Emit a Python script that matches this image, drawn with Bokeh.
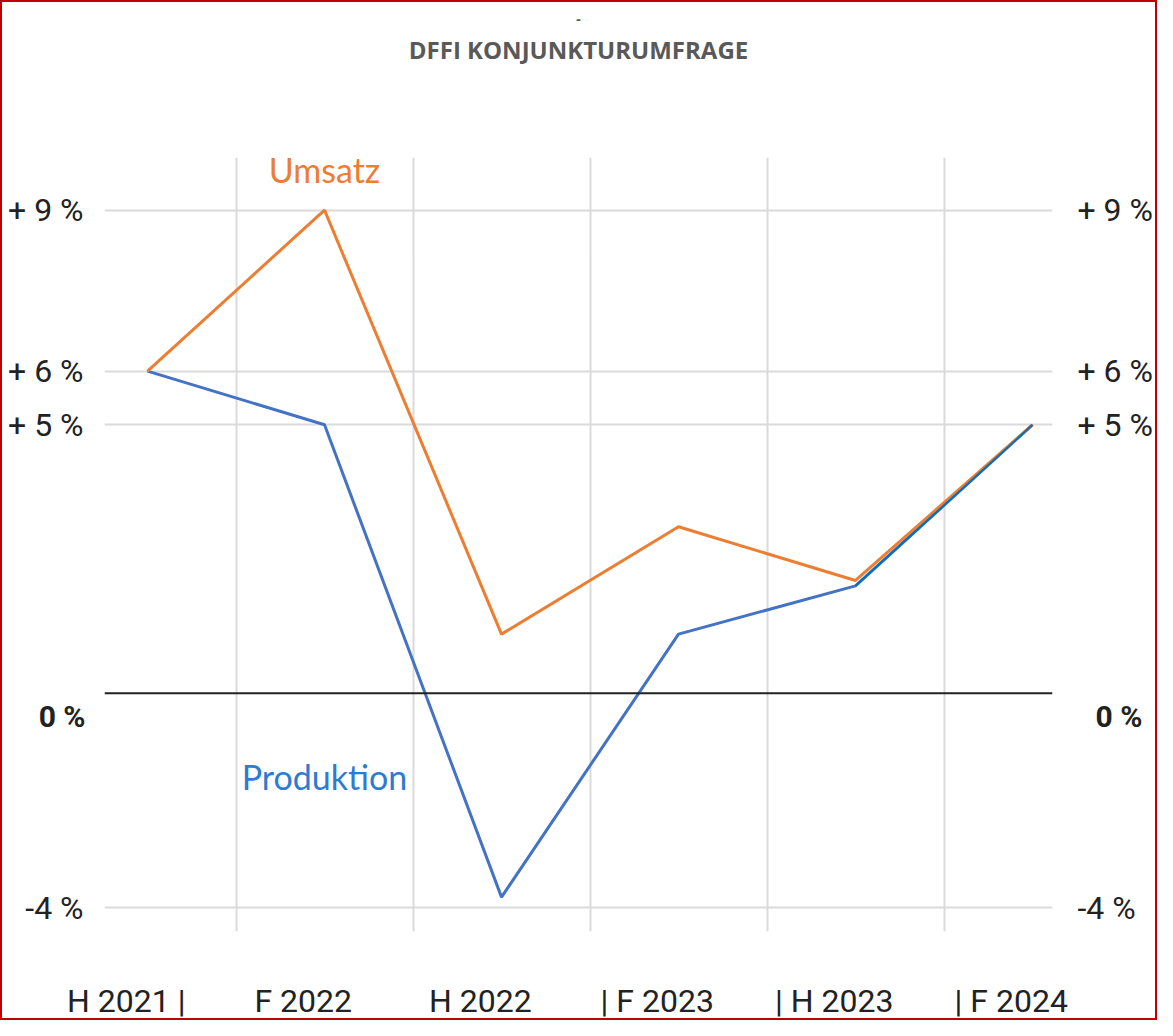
from bokeh.plotting import figure
from bokeh.models import Range1d, FixedTicker, LinearAxis, Span, Label, Title, Grid
from bokeh.embed import file_html
from bokeh.resources import INLINE

# ---- data -------------------------------------------------------------
categories = ["H 2021", "F 2022", "H 2022", "F 2023", "H 2023", "F 2024"]
x_tick_labels = ["H 2021 |", "F 2022", "H 2022", "| F 2023", "| H 2023", "| F 2024"]
umsatz = [6, 9, 1.1, 3.1, 2.1, 5]
produktion = [6, 5, -3.8, 1.1, 2.0, 5]
y_ticks = [9, 6, 5, 0, -4]
y_tick_labels = ["+ 9 %", "+ 6 %", "+ 5 %", "0 %", "-4 %"]

x = list(range(len(categories)))

TICKFONT = "Roboto"
ORANGE = "#ED7D31"
BLUE = "#4472C4"

x0, x1 = -0.243, 5.113
y0, y1 = -4.44, 9.98
p = figure(width=1157, height=1020, output_backend="svg", toolbar_location=None,
           x_range=Range1d(x0, x1), y_range=Range1d(y0, y1),
           x_axis_type=None, y_axis_type=None,
           min_border_left=102, min_border_right=107, min_border_top=155, min_border_bottom=85,
           title="-")
p.outline_line_color = None
p.background_fill_color = "white"
p.border_fill_color = "white"
p.styles = {"border": "2px solid #C00000"}

# titles: small dash on top, main title below it, empty space down to the plot
p.title.align = "center"
p.title.text_font = "Open Sans"
p.title.text_font_style = "bold"
p.title.text_font_size = "14px"
p.title.text_color = "#595959"
p.title.standoff = 4
p.add_layout(Title(text=" ", text_font_size="1px", standoff=84), "above")   # spacing only
p.add_layout(Title(text="DFFI KONJUNKTURUMFRAGE", align="center", text_font="Open Sans",
                   text_font_style="bold", text_font_size="24px", text_color="#595959",
                   standoff=10), "above")

# grids
p.add_layout(Grid(dimension=0, ticker=FixedTicker(ticks=[i + 0.5 for i in x[:-1]]),
                  grid_line_color="#DADADA", grid_line_width=2))
p.add_layout(Grid(dimension=1, ticker=FixedTicker(ticks=[t for t in y_ticks if t != 0]),
                  grid_line_color="#DADADA", grid_line_width=2))
p.add_layout(Span(location=0, dimension="width", line_color="#222222", line_width=2))

# y axes: bold "0 %" (drawn a little below its line) on an inner axis,
# the other labels on an outer axis pulled back to the same edge
W0 = 48          # approx. width of the bold "0 %" label
ZSHIFT = 0.43    # "0 %" sits slightly below the zero line
p.extra_y_ranges = {"zero": Range1d(y0 + ZSHIFT, y1 + ZSHIFT)}
zero_ticks = [t for t in y_ticks if t == 0]
other_ticks = [t for t in y_ticks if t != 0]
zero_over = {t: l for t, l in zip(y_ticks, y_tick_labels) if t == 0}
other_over = {t: l for t, l in zip(y_ticks, y_tick_labels) if t != 0}
common = dict(axis_line_color=None, major_tick_line_color=None, minor_tick_line_color=None,
              major_tick_in=0, major_tick_out=0, major_label_text_color="#222222")
for side, s0, sa in (("left", 19, -W0), ("right", 43, 23 - 43 - W0)):
    az = LinearAxis(y_range_name="zero", ticker=FixedTicker(ticks=zero_ticks),
                    major_label_overrides=zero_over, major_label_standoff=s0,
                    major_label_text_font=TICKFONT, major_label_text_font_style="bold",
                    major_label_text_font_size="30px", **common)
    p.add_layout(az, side)
    ao = LinearAxis(ticker=FixedTicker(ticks=other_ticks), major_label_overrides=other_over,
                    major_label_standoff=sa, major_label_text_font=TICKFONT,
                    major_label_text_font_size="32px", **common)
    p.add_layout(ao, side)

# x axis (labels sit slightly left of the points)
p.extra_x_ranges = {"lab": Range1d(x0 + 0.12, x1 + 0.12)}
xa = LinearAxis(x_range_name="lab", ticker=FixedTicker(ticks=x),
                major_label_overrides={i: l for i, l in zip(x, x_tick_labels)},
                major_label_standoff=50, major_label_text_font=TICKFONT,
                major_label_text_font_size="32px", **common)
p.add_layout(xa, "below")

# lines
p.line(x, produktion, line_color=BLUE, line_width=3)
p.line(x, umsatz, line_color=ORANGE, line_width=3)
p.line(x[-2:], produktion[-2:], line_color="#0070C0", line_width=2)

# series labels
p.add_layout(Label(x=1, y=umsatz[1], y_offset=20, text="Umsatz", text_align="center",
                   text_baseline="bottom", text_font="Lato", text_font_size="34px",
                   text_color=ORANGE))
p.add_layout(Label(x=1, y=-1.55, text="Produktion", text_align="center",
                   text_baseline="middle", text_font="Lato", text_font_size="34px",
                   text_color="#2E7BCF"))

open("out.html", "w").write(file_html(p, INLINE))
